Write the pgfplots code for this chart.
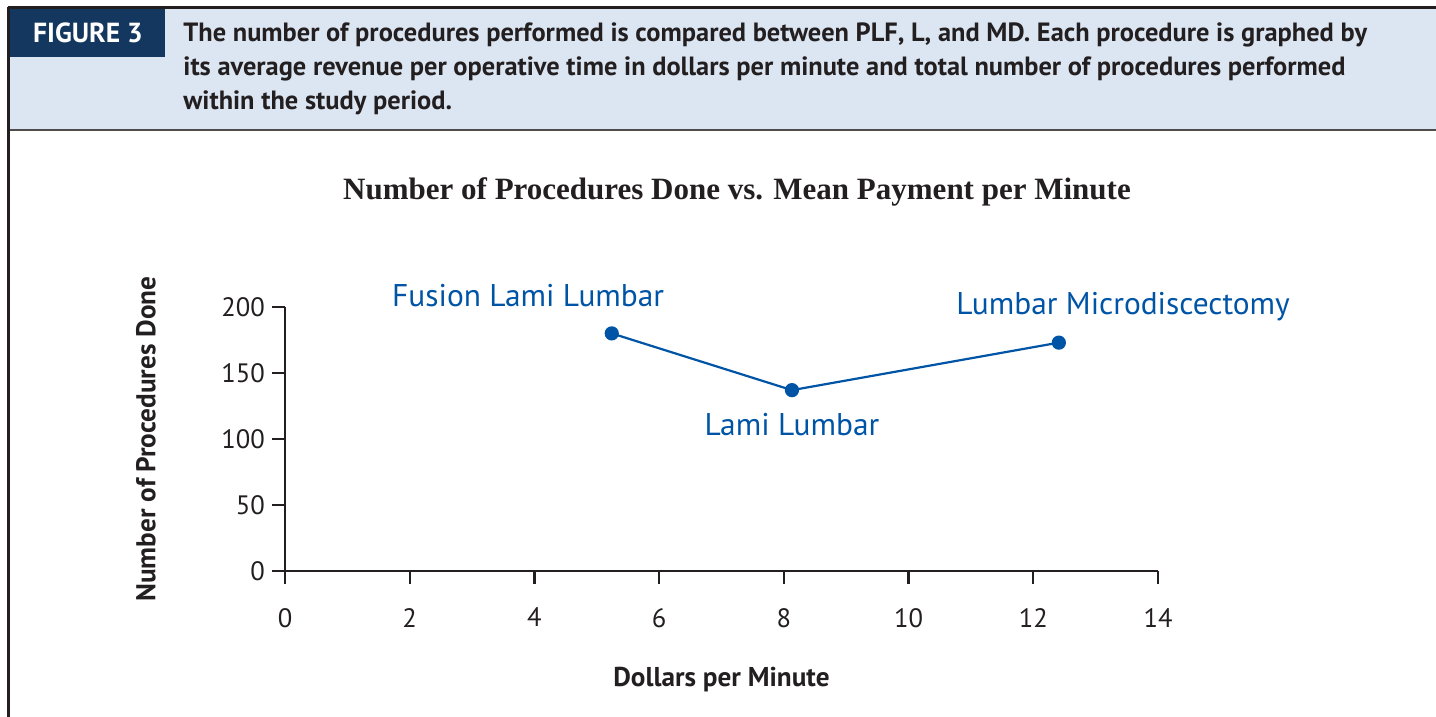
\documentclass[border=0pt]{standalone}
\usepackage{fontspec}
\setmainfont{PT Sans}
\newfontfamily\titlefont{Liberation Serif}
\usepackage{pgfplots}
\pgfplotsset{compat=1.18}

\definecolor{hdrbg}{HTML}{DCE6F2}
\definecolor{navy}{HTML}{13375E}
\definecolor{ink}{HTML}{231F20}
\definecolor{lineblue}{HTML}{0054A6}

\begin{document}
\begin{tikzpicture}
% page = 1436 x 717 px, 1 px = 0.5pt, y measured from the bottom
\begin{scope}[x=0.5pt,y=0.5pt]
\path[use as bounding box] (0,0) rectangle (1436,717);

% header band
\fill[hdrbg] (8,587) rectangle (1436,709);
\fill[navy] (9,660) rectangle (165,708);
\draw[ink, line width=1.1pt] (8,709.5) -- (1436,709.5);
\draw[ink!80, line width=0.9pt] (8,587) -- (1436,587);
\draw[ink, line width=1.1pt] (8.5,0) -- (8.5,710);
\node[white, font=\bfseries\fontsize{13.8}{16}\selectfont] at (88,684) {FIGURE 3};
\node[ink, anchor=north west, align=left, inner sep=0pt,
      font=\bfseries\fontsize{13.2}{17}\selectfont] at (183,695)
  {The number of procedures performed is compared between PLF, L, and MD. Each procedure is graphed by\\
   its average revenue per operative time in dollars per minute and total number of procedures performed\\
   within the study period.};

% chart title
\node[ink, font=\titlefont\bfseries\fontsize{15.5}{18}\selectfont] at (737,525)
  {Number of Procedures Done vs. Mean Payment per Minute};
\end{scope}

\begin{axis}[
    at={(142.5pt,73pt)}, anchor=south west,
    scale only axis,
    width=436.5pt, height=132pt,
    xmin=0, xmax=14, ymin=0, ymax=200,
    xtick={0,2,...,14}, ytick={0,50,...,200},
    axis lines=left,
    axis line style={-, ink, line width=1.2pt},
    tick style={ink, line width=1.2pt},
    tick align=outside,
    major tick length=6.5pt,
    /pgf/number format/assume math mode=true,
    ticklabel style={ink, font=\fontsize{13.3}{15}\selectfont},
    xticklabel style={yshift=-8.5pt},
    xlabel={Dollars per Minute},
    ylabel={Number of Procedures Done},
    label style={ink, font=\bfseries\fontsize{13.6}{15}\selectfont},
    xlabel style={yshift=-13pt},
    ylabel style={yshift=26pt},
    clip=false,
]
\addplot[lineblue, line width=1.1pt, mark=*, mark size=3pt,
         mark options={fill=lineblue, draw=lineblue}]
  coordinates {(5.24,180) (8.13,137) (12.41,173)};

\node[lineblue, font=\fontsize{15.7}{18}\selectfont] at (axis cs:3.90,208.5) {Fusion Lami Lumbar};
\node[lineblue, font=\fontsize{15.7}{18}\selectfont] at (axis cs:8.13,111) {Lami Lumbar};
\node[lineblue, font=\fontsize{15.7}{18}\selectfont] at (axis cs:13.44,200.5) {Lumbar Microdiscectomy};
\end{axis}
\end{tikzpicture}
\end{document}
